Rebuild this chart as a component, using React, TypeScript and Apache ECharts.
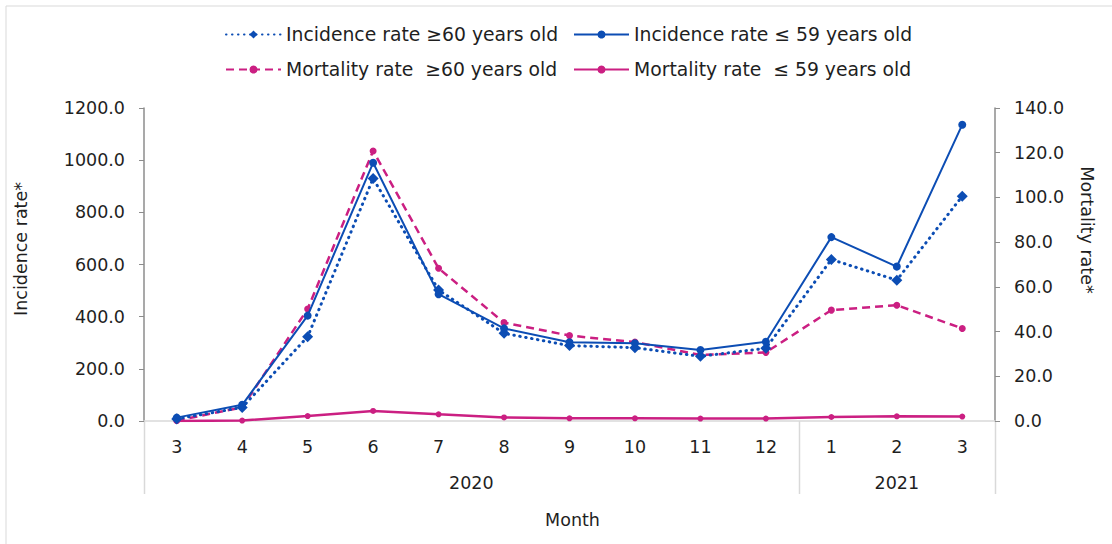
import React, { useEffect, useRef } from "react";
import * as echarts from "echarts";

const months = ["3", "4", "5", "6", "7", "8", "9", "10", "11", "12", "1", "2", "3"];
const yearGroups = [
  { label: "2020", count: 10 },
  { label: "2021", count: 3 },
];
const incidenceOld = [8, 52, 323, 930, 502, 336, 289, 281, 248, 279, 619, 540, 862];
const incidenceYoung = [13, 62, 404, 990, 486, 355, 302, 298, 272, 304, 705, 592, 1136];
const mortalityOld = [0.2, 6.1, 50.1, 120.8, 68.3, 44.0, 38.2, 35.3, 29.5, 30.7, 49.6, 51.8, 41.4];
const mortalityYoung = [0.0, 0.2, 2.2, 4.5, 3.0, 1.6, 1.2, 1.2, 1.1, 1.1, 1.8, 2.1, 2.0];

const names = [
  "Incidence rate ≥60 years old",
  "Incidence rate ≤ 59 years old",
  "Mortality rate  ≥60 years old",
  "Mortality rate  ≤ 59 years old",
];

const BLUE = "#0C4DB4";
const PINK = "#CB1F82";
const TEXT = "#1f1f1f";
const FONT = "DejaVu Sans, Verdana, sans-serif";
const FS = 17.5;

const W = 1112;
const H = 544;
const GRID_LEFT = 144;
const GRID_RIGHT = 117;
const GRID_TOP = 108;
const GRID_BOTTOM = 123;

export default function App() {
  const ref = useRef<HTMLDivElement>(null);
  useEffect(() => {
    document.body.style.margin = "0";
    const chart = echarts.init(ref.current!, null, { renderer: "svg" });
    const plotW = W - GRID_LEFT - GRID_RIGHT;
    const axisY = H - GRID_BOTTOM;
    const band = plotW / months.length;
    const sepColor = "#d9d9d9";

    const graphics: any[] = [
      {
        type: "rect",
        shape: { x: 6, y: 6, width: W + 20, height: H + 20 },
        style: { fill: "none", stroke: "#d9d9d9", lineWidth: 1 },
        silent: true,
      },
    ];
    let start = 0;
    const boundaries = [0];
    yearGroups.forEach((g) => {
      const cx = GRID_LEFT + (start + g.count / 2) * band;
      graphics.push({
        type: "text",
        x: cx,
        y: axisY + 62,
        style: { text: g.label, fill: TEXT, font: `${FS}px ${FONT}`, align: "center", verticalAlign: "middle" },
      });
      start += g.count;
      boundaries.push(start);
    });
    boundaries.forEach((b) => {
      const x = Math.round(GRID_LEFT + b * band) + 0.5;
      graphics.push({
        type: "line",
        shape: { x1: x, y1: axisY, x2: x, y2: axisY + 73 },
        style: { stroke: sepColor, lineWidth: 1.5 },
        silent: true,
      });
    });
    graphics.push(
      {
        type: "text",
        x: GRID_LEFT + plotW / 2 + 3,
        y: 520,
        style: { text: "Month", fill: TEXT, font: `${FS}px ${FONT}`, align: "center", verticalAlign: "middle" },
      },
      {
        type: "text",
        x: 21,
        y: 249,
        rotation: Math.PI / 2,
        style: { text: "Incidence rate*", fill: TEXT, font: `${FS}px ${FONT}`, align: "center", verticalAlign: "middle" },
      },
      {
        type: "text",
        x: 1087,
        y: 230,
        rotation: -Math.PI / 2,
        style: { text: "Mortality rate*", fill: TEXT, font: `${FS}px ${FONT}`, align: "center", verticalAlign: "middle" },
      }
    );

    const legendBase = {
      itemWidth: 55,
      itemHeight: 10,
      padding: 0,
      itemGap: 0,
      textStyle: { fontSize: 18.8, color: TEXT, fontFamily: FONT },
    };

    const axisLabelStyle = { fontSize: FS, color: TEXT, fontFamily: FONT, margin: 19 };

    chart.setOption({
      animation: false,
      backgroundColor: "#ffffff",
      grid: { left: GRID_LEFT, right: GRID_RIGHT, top: GRID_TOP, bottom: GRID_BOTTOM, containLabel: false },
      legend: [
        { ...legendBase, data: [names[0]], left: 225, top: 25 },
        { ...legendBase, data: [names[1]], left: 573, top: 25 },
        { ...legendBase, data: [names[2]], left: 225, top: 60 },
        { ...legendBase, data: [names[3]], left: 573, top: 60 },
      ],
      xAxis: {
        type: "category",
        data: months,
        boundaryGap: true,
        axisLine: { lineStyle: { color: "#d9d9d9", width: 1.5 } },
        axisTick: { show: false },
        axisLabel: { ...axisLabelStyle, margin: 17, interval: 0 },
        splitLine: { show: false },
      },
      yAxis: [
        {
          type: "value",
          min: 0,
          max: 1200,
          interval: 200,
          position: "left",
          axisLine: { show: true, lineStyle: { color: "#8c8c8c", width: 1.5 } },
          axisTick: { show: true, length: 5, lineStyle: { color: "#8c8c8c" } },
          axisLabel: { ...axisLabelStyle, formatter: (v: number) => v.toFixed(1) },
          splitLine: { show: false },
        },
        {
          type: "value",
          min: 0,
          max: 140,
          interval: 20,
          position: "right",
          axisLine: { show: true, lineStyle: { color: "#8c8c8c", width: 1.5 } },
          axisTick: { show: true, length: 5, lineStyle: { color: "#8c8c8c" } },
          axisLabel: { ...axisLabelStyle, formatter: (v: number) => v.toFixed(1) },
          splitLine: { show: false },
        },
      ],
      series: [
        {
          name: names[0],
          type: "line",
          yAxisIndex: 0,
          data: incidenceOld,
          symbol: "diamond",
          symbolSize: 11,
          itemStyle: { color: BLUE },
          lineStyle: { color: BLUE, width: 3, type: [0.5, 5.5], cap: "round" },
          z: 3,
        },
        {
          name: names[1],
          type: "line",
          yAxisIndex: 0,
          data: incidenceYoung,
          symbol: "circle",
          symbolSize: 8,
          itemStyle: { color: BLUE },
          lineStyle: { color: BLUE, width: 2 },
          z: 4,
        },
        {
          name: names[2],
          type: "line",
          yAxisIndex: 1,
          data: mortalityOld,
          symbol: "circle",
          symbolSize: 7,
          itemStyle: { color: PINK },
          lineStyle: { color: PINK, width: 2.5, type: [8, 5] },
          z: 2,
        },
        {
          name: names[3],
          type: "line",
          yAxisIndex: 1,
          data: mortalityYoung,
          symbol: "circle",
          symbolSize: 6,
          itemStyle: { color: PINK },
          lineStyle: { color: PINK, width: 2.5 },
          z: 2,
        },
      ],
      graphic: graphics,
    });
    return () => chart.dispose();
  }, []);
  return <div ref={ref} style={{ width: W, height: H }} />;
}
